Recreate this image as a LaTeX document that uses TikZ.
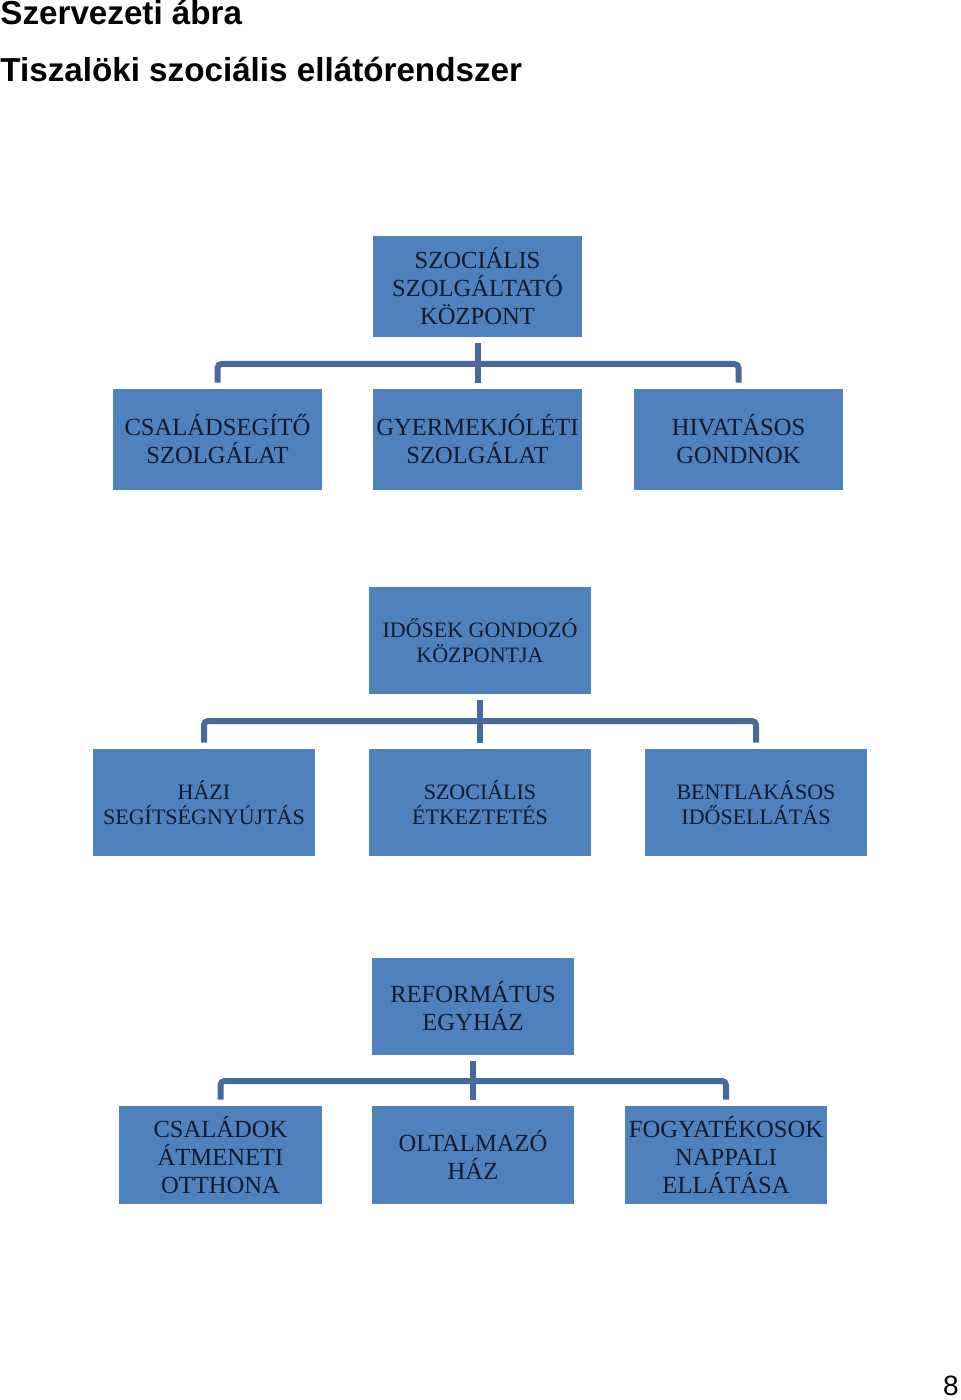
\documentclass[tikz,border=0pt]{standalone}
\usepackage{fontspec}
\setmainfont{Liberation Serif}
\newfontfamily\headfont{Liberation Sans}
\definecolor{boxblue}{RGB}{79,129,189}
\definecolor{linkblue}{RGB}{72,106,154}
\definecolor{boxtext}{RGB}{16,26,46}
\tikzset{
  unit/.style n args={2}{rectangle, fill=boxblue, text=boxtext, align=center,
    inner sep=0pt, minimum width=#1, minimum height=#2},
  bigtext/.style={font=\fontsize{12.3}{14}\selectfont},
  smalltext/.style={font=\fontsize{11}{12.8}\selectfont},
  bus/.style={draw=linkblue, line width=3pt, rounded corners=2pt},
  heading/.style={anchor=base west, inner sep=0pt, font=\headfont\bfseries\fontsize{16.6}{19}\selectfont}
}

\begin{document}
\begin{tikzpicture}[x=0.5pt, y=-0.5pt]
\useasboundingbox (0,0) rectangle (960,1400);
      \node [heading] at (0,25) (head a) {Szervezeti ábra};
       \node [heading] at (0,82) (head b) {Tiszalöki szociális ellátórendszer};
        \node [anchor=base east, inner sep=0pt, font=\headfont\fontsize{14}{16}\selectfont] at (959,1395) (pagenum) {8};
%
% first group
      \node [unit={104.5pt}{50.5pt}, bigtext] at (477.5,286.5) (szk) {SZOCIÁLIS\\SZOLGÁLTATÓ\\KÖZPONT};
       \node [unit={104.5pt}{50.5pt}, bigtext] at (217.5,439.5) (csg) {CSALÁDSEGÍTŐ\\SZOLGÁLAT};
        \node [unit={104.5pt}{50.5pt}, bigtext] at (477.5,439.5) (gyj) {GYERMEKJÓLÉTI\\SZOLGÁLAT};
         \node [unit={104.5pt}{50.5pt}, bigtext] at (738.5,439.5) (hiv) {HIVATÁSOS\\GONDNOK};
%
% second group
      \node [unit={111pt}{53.5pt}, smalltext] at (480,640.5) (igk) {IDŐSEK GONDOZÓ\\KÖZPONTJA};
       \node [unit={111pt}{53.5pt}, smalltext] at (204,802.5) (hazi) {HÁZI\\SEGÍTSÉGNYÚJTÁS};
        \node [unit={111pt}{53.5pt}, smalltext] at (480,802.5) (etk) {SZOCIÁLIS\\ÉTKEZTETÉS};
         \node [unit={111pt}{53.5pt}, smalltext] at (756,802.5) (bent) {BENTLAKÁSOS\\IDŐSELLÁTÁS};
%
% third group
      \node [unit={101pt}{48.5pt}, bigtext] at (473,1006.5) (ref) {REFORMÁTUS\\EGYHÁZ};
       \node [unit={101.5pt}{49pt}, bigtext] at (220.5,1155) (cso) {CSALÁDOK\\ÁTMENETI\\OTTHONA};
        \node [unit={101pt}{49pt}, bigtext] at (473,1155) (olt) {OLTALMAZÓ\\HÁZ};
         \node [unit={101pt}{49pt}, bigtext] at (726,1155) (fogy) {FOGYATÉKOSOK\\NAPPALI\\ELLÁTÁSA};
%
\coordinate (bus a) at (477.5,364);
\coordinate (bus b) at (480,721);
\coordinate (bus c) at (473,1081);
%
\draw[bus] ([yshift=-3pt]szk.south) -- ([yshift=3pt]gyj.north);
\draw[bus] ([yshift=3pt]csg.north) |- (bus a) -| ([yshift=3pt]hiv.north);
\draw[bus] ([yshift=-3pt]igk.south) -- ([yshift=3pt]etk.north);
\draw[bus] ([yshift=3pt]hazi.north) |- (bus b) -| ([yshift=3pt]bent.north);
\draw[bus] ([yshift=-3pt]ref.south) -- ([yshift=3pt]olt.north);
\draw[bus] ([yshift=3pt]cso.north) |- (bus c) -| ([yshift=3pt]fogy.north);

\end{tikzpicture}
\end{document}
